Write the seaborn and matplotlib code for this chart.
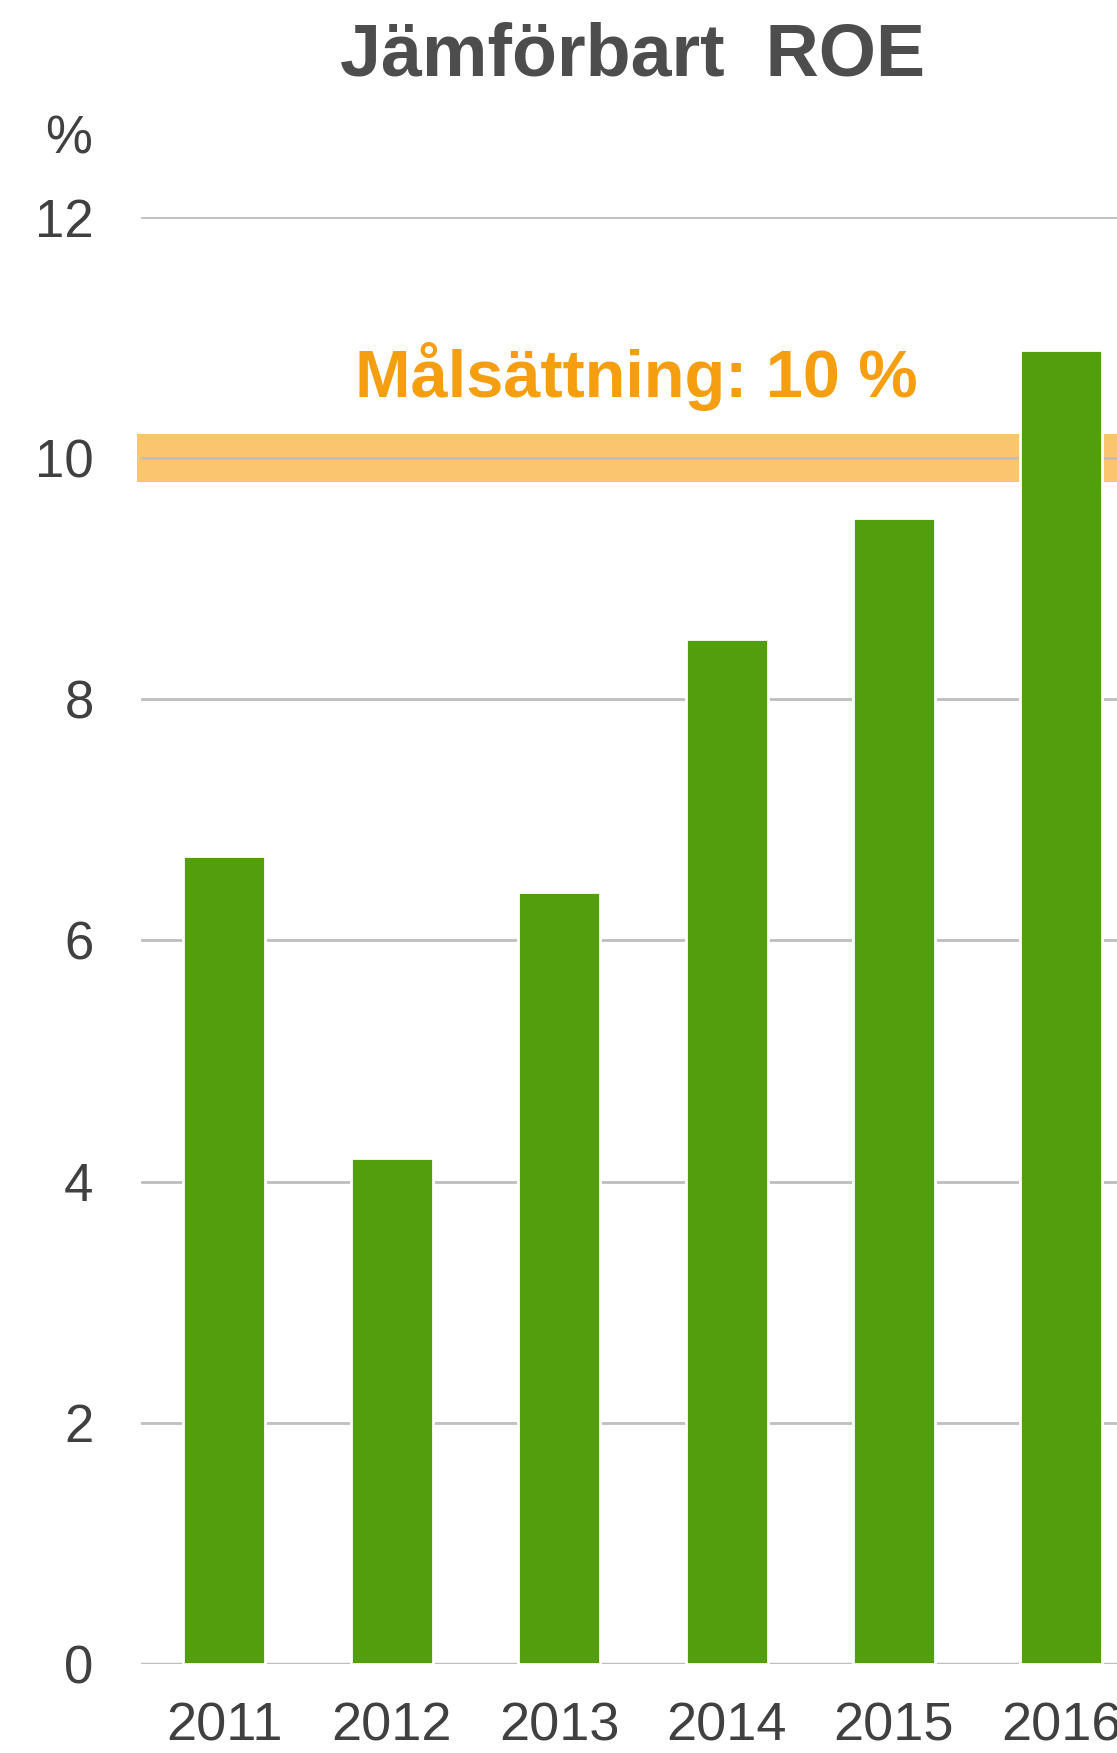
import matplotlib
matplotlib.use("Agg")
import matplotlib.pyplot as plt
import seaborn as sns
import pandas as pd

# data
years = ["2011", "2012", "2013", "2014", "2015", "2016"]
roe = [6.7, 4.2, 6.4, 8.5, 9.5, 10.9]
target = 10
target_band = (9.8, 10.2)
yticks = [0, 2, 4, 6, 8, 10, 12]

sns.set_theme(style="white")
plt.rcParams['font.family'] = ['Liberation Sans', 'DejaVu Sans']

df = pd.DataFrame({"year": years, "roe": roe})

fig = plt.figure(figsize=(11.17, 17.53), dpi=100)
# axes runs past the right edge like the reference (2016 is clipped)
ax = fig.add_axes([0.126, 0.0508, 0.899, 0.8254])

# target band behind everything, sticking out a little on the left
band = ax.axhspan(target_band[0], target_band[1], xmin=-0.004, color="#FBC46F", lw=0, zorder=0)
band.set_clip_on(False)

sns.barplot(data=df, x="year", y="roe", color="#529E0C", width=0.49,
            saturation=1, edgecolor="white", linewidth=2, ax=ax, zorder=3)

ax.set_ylim(0, 12)
ax.set_xlim(-0.5, 5.5)
ax.set_yticks(yticks)
ax.set_yticklabels([str(t) for t in yticks])
ax.yaxis.grid(True, color="#BFBFBF", lw=2, zorder=1)
ax.set_axisbelow(False)
for s in ax.spines.values():
    s.set_visible(False)
ax.axhline(0, color="#BFBFBF", lw=2.5, zorder=2)

ax.tick_params(axis="y", length=0, pad=34, labelsize=38, labelcolor="#404040")
ax.tick_params(axis="x", length=0, pad=27, labelsize=39, labelcolor="#404040")
ax.set_xlabel("")
ax.set_ylabel("")

ax.text(2.46, 10.68, "Målsättning: 10 %", ha="center", va="center",
        fontsize=48, fontweight="bold", color="#F59E10", zorder=4)

fig.text(0.5665, 1 - 56 / 1753, "Jämförbart  ROE", ha="center", va="center",
         fontsize=53, fontweight="bold", color="#4D4D4D")
fig.text(69 / 1117, 1 - 140 / 1753, "%", ha="center", va="center",
         fontsize=38, color="#404040")

fig.savefig("out.png", dpi=100)
